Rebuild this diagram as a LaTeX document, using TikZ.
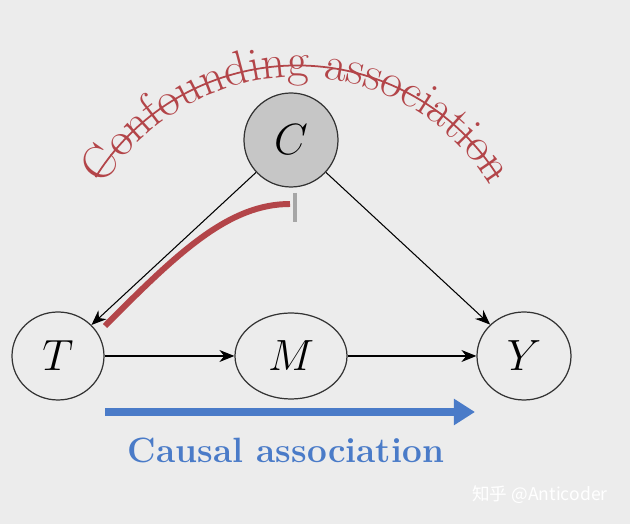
\documentclass[tikz,border=0pt]{standalone}
\usepackage{fontspec}
\newfontfamily\cjk{Noto Sans CJK SC}
\usepackage{tikz}
\usetikzlibrary{calc,positioning,shapes.geometric,arrows.meta,decorations.text}
\usepackage{xcolor}
\definecolor{bgcol}{HTML}{ECECEC}
\definecolor{confred}{HTML}{B34549}
\definecolor{causblue}{HTML}{4A7BC8}
\definecolor{cfill}{HTML}{C6C6C6}
\tikzset{
  varnode/.style={
    draw=black!80,
    ellipse,
    inner sep=0pt,
    line width=0.7pt,
    font=\fontsize{24}{28}\selectfont,
  },
  confnode/.style={
    varnode,
    circle,
    minimum size=18.8mm,
    fill=cfill,
  },
  edge/.style={-{Stealth[length=3mm,width=2.4mm]}, line width=0.6pt},
  causal/.style={-{Triangle[length=4.2mm,width=5mm]}, line width=4.5pt, causblue},
  confpath/.style={line width=3.4pt, confred},
}

\begin{document}
\begin{tikzpicture}
  \fill[bgcol] (0,0) rectangle (12.6,10.48);
  \useasboundingbox (0,0) rectangle (12.6,10.48);
  \node[confnode] (C) at (5.82,7.68) {$C$};
  \node[varnode, minimum width=18.4mm, minimum height=17.6mm] (T) at (1.16,3.36) {$T$};
  \node[varnode, minimum width=22.4mm, minimum height=17.2mm] (M) at (5.82,3.36) {$M$};
  \node[varnode, minimum width=18.8mm, minimum height=17.6mm] (Y) at (10.48,3.36) {$Y$};
  \draw[edge] (C) -- (T);
  \draw[edge] (C) -- (Y);
  \draw[edge] (T) -- (M);
  \draw[edge] (M) -- (Y);
  \coordinate (cs) at (2.10,2.24);
  \coordinate (ce) at (9.50,2.24);
  \draw[causal] (cs) -- (ce);
  \node[causblue, font=\fontsize{20}{24}\selectfont\bfseries] (ctext) at (5.72,1.48) {Causal association};
  \coordinate (rs) at (2.10,3.96);
  \coordinate (re) at (5.80,6.40);
  \draw[confpath] (rs) .. controls (3.6,5.48) and (4.6,6.40) .. (re);
  \coordinate (ta) at (5.90,6.62);
  \coordinate (tb) at (5.90,6.04);
  \draw[line width=2.2pt, black!35] (ta) -- (tb);
  \coordinate (arcc) at (5.94,4.42);
  \path[decorate, decoration={text along path, text align=center,
      text={|\color{confred}\fontsize{27}{31}\selectfont|Confounding association}}]
    (arcc) ++(156:4.52) arc (156:24:4.52);
  \draw[confred, line width=1pt] (arcc) ++(148:4.75) arc (148:32:4.75);
  \node[white, font=\cjk\fontsize{10}{12}\selectfont] (mark) at (10.80,0.58) {知乎 @Anticoder};
\end{tikzpicture}
\end{document}
